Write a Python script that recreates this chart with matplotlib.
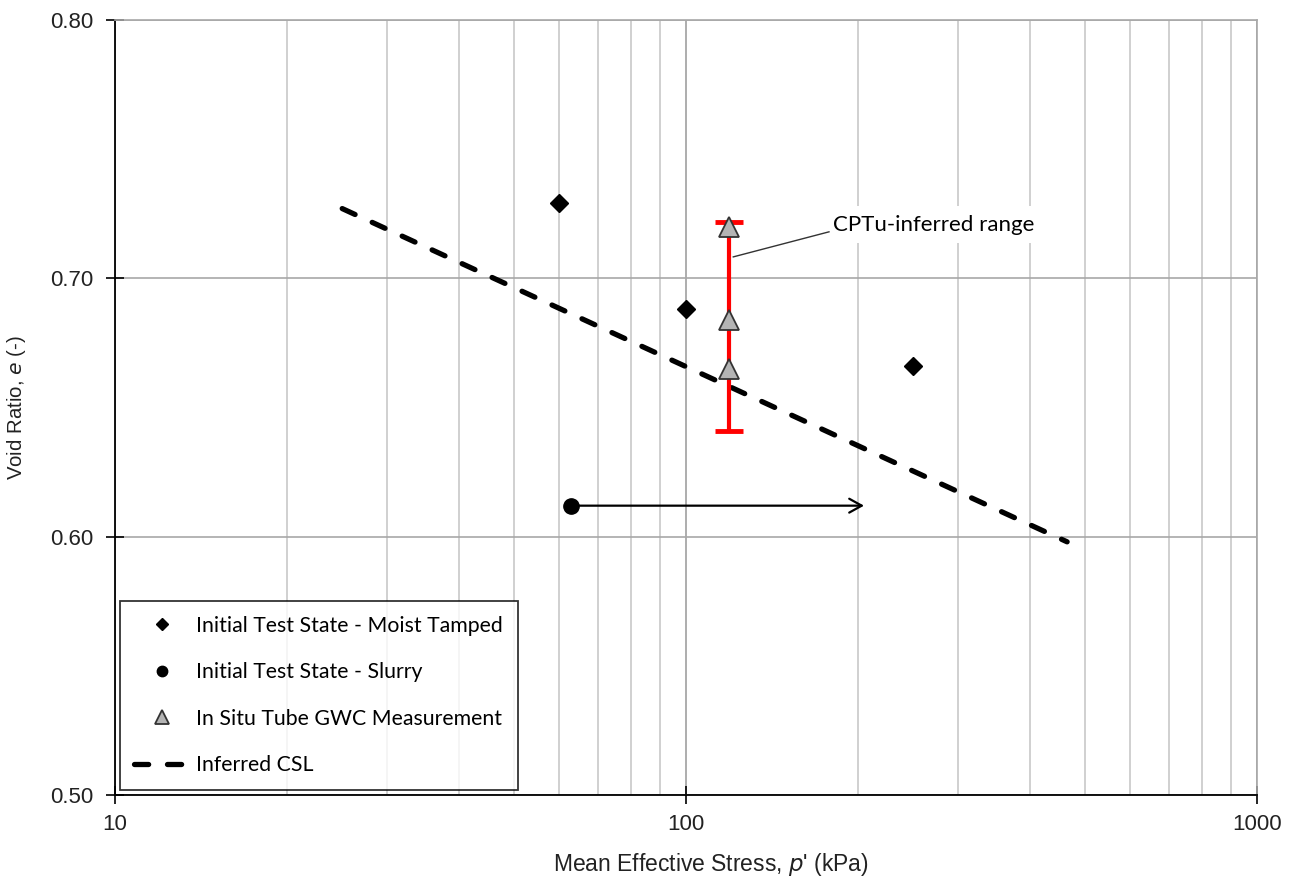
import matplotlib.pyplot as plt
import numpy as np

# data
p_moist = [60, 100, 250]
e_moist = [0.729, 0.688, 0.666]

p_slurry = [63]
e_slurry = [0.612]
p_slurry_end = 205

p_tube = [119, 119, 119]
e_tube = [0.720, 0.684, 0.665]

p_cptu = 119
e_cptu = [0.641, 0.722]

p_csl = [25, 465]
e_csl = [0.727, 0.598]

leg_font = ["Lato", "DejaVu Sans"]
ax_font = ["Liberation Sans", "DejaVu Sans"]

fig = plt.figure(figsize=(12.96, 8.82), dpi=100)
ax = fig.add_axes([115 / 1296, 1 - 795 / 882, 1142 / 1296, 775 / 882])

ax.set_xscale("log")
ax.set_xlim(10, 1000)
ax.set_ylim(0.50, 0.80)
ax.set_yticks([0.50, 0.60, 0.70, 0.80])
ax.set_yticklabels(["%.2f" % v for v in [0.50, 0.60, 0.70, 0.80]])
ax.set_xticks([10, 100, 1000])
ax.set_xticklabels(["10", "100", "1000"])

ax.grid(True, which="minor", axis="x", color="#c8c8c8", lw=1.2)
ax.grid(True, which="major", axis="x", color="#a0a0a0", lw=1.2)
ax.grid(True, which="major", axis="y", color="#a8a8a8", lw=1.2)
ax.set_axisbelow(True)

for s in ["top", "right"]:
    ax.spines[s].set_color("#a8a8a8")
    ax.spines[s].set_linewidth(1.2)
for s in ["left", "bottom"]:
    ax.spines[s].set_color("black")
    ax.spines[s].set_linewidth(1.3)

ax.tick_params(which="major", direction="inout", length=13, width=1.2,
               labelsize=16, labelcolor="#222222")
ax.tick_params(axis="y", pad=9)
ax.tick_params(axis="x", pad=7)
ax.tick_params(which="minor", length=0)
for lab in ax.get_xticklabels() + ax.get_yticklabels():
    lab.set_family(ax_font)

ax.set_xlabel("Mean Effective Stress, $p$' (kPa)", family=ax_font,
              fontsize=16.5, color="#222222")
ax.xaxis.set_label_coords((711 - 115) / 1142, -0.072)
ax.set_ylabel("Void Ratio, $e$ (-)", family=ax_font, fontsize=14.7,
              color="#222222")
ax.yaxis.set_label_coords(-0.076, 0.5)

# CSL
ax.plot(p_csl, e_csl, color="black", lw=3.8, dashes=(2.68, 3.57),
        dash_capstyle="round", label="Inferred CSL", zorder=3)

# CPTu range
ax.errorbar([p_cptu], [np.mean(e_cptu)],
            yerr=[[np.mean(e_cptu) - e_cptu[0]], [e_cptu[1] - np.mean(e_cptu)]],
            fmt="none", ecolor="#ff0000", elinewidth=3, capsize=10,
            capthick=3.5, zorder=4)

ax.plot(p_moist, e_moist, "D", color="black", ms=9.5, ls="none",
        label="Initial Test State - Moist Tamped", zorder=5)
ax.plot(p_slurry, e_slurry, "o", color="black", ms=11, ls="none",
        label="Initial Test State - Slurry", zorder=5)
ax.plot(p_tube, e_tube, "^", mfc="#b4b4b4", mec="#333333", mew=1.3,
        ms=14.5, ls="none", label="In Situ Tube GWC Measurement", zorder=6)

ax.annotate("", xy=(p_slurry_end, e_slurry[0]), xytext=(p_slurry[0], e_slurry[0]),
            arrowprops=dict(arrowstyle="->,head_length=0.9,head_width=0.5",
                            color="black", lw=1.6, shrinkA=0, shrinkB=0),
            zorder=4)

ax.text(181, 0.7207, "CPTu-inferred range", family=leg_font, fontsize=16,
        va="center", ha="left",
        bbox=dict(facecolor="white", edgecolor="none", pad=6), zorder=4)
ax.plot([121, 178], [0.7083, 0.718], color="#333333", lw=1, zorder=4)

handles, labels = ax.get_legend_handles_labels()
order = [1, 2, 3, 0]
leg = ax.legend([handles[i] for i in order], [labels[i] for i in order],
                loc="lower left", bbox_to_anchor=(0.004, 0.006),
                prop={"family": leg_font, "size": 15.3},
                frameon=True, fancybox=False, edgecolor="black",
                borderpad=0.7, labelspacing=1.25, handlelength=2.6,
                handletextpad=0.3, borderaxespad=0, markerscale=0.68)
leg.get_frame().set_linewidth(1.3)

fig.savefig("out.png", dpi=100)
